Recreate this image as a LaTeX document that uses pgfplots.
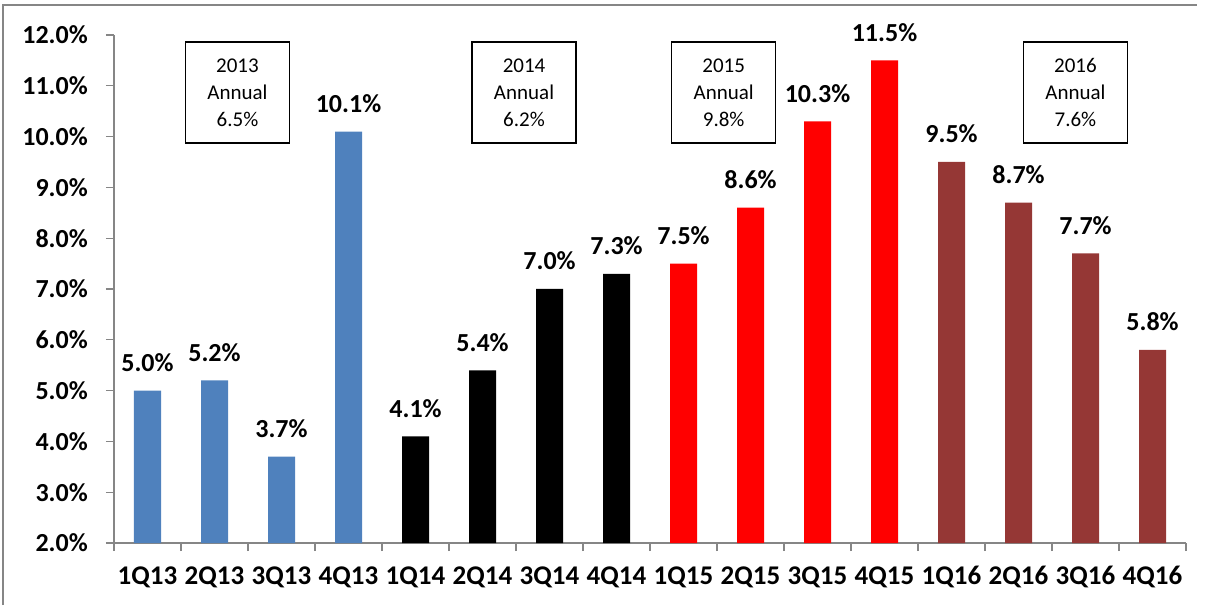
\documentclass[border=0pt]{standalone}
\usepackage{fontspec}
\setmainfont{Carlito}
\usepackage{pgfplots}
\pgfplotsset{compat=1.18}
\definecolor{cblue}{HTML}{4F81BD}
\definecolor{cbrown}{HTML}{953735}
\definecolor{cred}{HTML}{FF0000}
\definecolor{axgray}{HTML}{868686}
\begin{document}
\begin{tikzpicture}[x=1pt,y=1pt]
\path[use as bounding box] (-114,-62) rectangle (1092,543);
\draw[axgray, line width=1.5pt] (-111,-62) -- (-111,538) -- (1083,538);
\begin{axis}[
  at={(0,0)}, anchor=south west, scale only axis,
  width=1072pt, height=508pt,
  xmin=-0.5, xmax=15.5, ymin=2, ymax=12,
  axis lines=left,
  axis line style={-, draw=axgray, line width=1.2pt},
  ybar, bar width=27pt, bar shift=0pt,
  xtick={-0.5,0.5,...,15.5},
  x tick label as interval,
  xticklabels={1Q13,2Q13,3Q13,4Q13,1Q14,2Q14,3Q14,4Q14,1Q15,2Q15,3Q15,4Q15,1Q16,2Q16,3Q16,4Q16},
  ytick={2,3,...,12},
  tick style={draw=axgray, line width=1.2pt},
  tick align=outside, major tick length=8pt,
  /pgf/number format/assume math mode=true,
  yticklabel={\pgfmathprintnumber[fixed,fixed zerofill,precision=1]{\tick}\%},
  yticklabel style={font=\bfseries\fontsize{26}{26}\selectfont, anchor=east, inner sep=0pt, xshift=-18pt},
  xticklabel style={font=\bfseries\fontsize{27}{27}\selectfont, anchor=base, inner sep=0pt, yshift=-33pt},
  clip=false,
  nodes near coords={\pgfmathprintnumber[fixed,fixed zerofill,precision=1]{\pgfplotspointmeta}\%},
  every node near coord/.append style={font=\bfseries\fontsize{26}{26}\selectfont, anchor=south, inner sep=0pt, text depth=0pt, yshift=19pt, text=black},
]
\addplot[fill=cblue, draw=none] coordinates {(0,5.0) (1,5.2) (2,3.7) (3,10.1)};
\addplot[fill=black, draw=none] coordinates {(4,4.1) (5,5.4) (6,7.0) (7,7.3)};
\addplot[fill=cred, draw=none] coordinates {(8,7.5) (9,8.6) (10,10.3) (11,11.5)};
\addplot[fill=cbrown, draw=none] coordinates {(12,9.5) (13,8.7) (14,7.7) (15,5.8)};
\tikzset{annbox/.style={draw=black, line width=1.5pt, minimum width=104pt, minimum height=101pt, align=center, inner sep=0pt, font=\fontsize{21}{27}\selectfont}}
\node[annbox] at (axis cs:1.343,10.87) {2013\\Annual\\6.5\%};
\node[annbox] at (axis cs:5.62,10.87) {2014\\Annual\\6.2\%};
\node[annbox] at (axis cs:8.60,10.87) {2015\\Annual\\9.8\%};
\node[annbox] at (axis cs:13.85,10.87) {2016\\Annual\\7.6\%};
\end{axis}
\end{tikzpicture}
\end{document}
